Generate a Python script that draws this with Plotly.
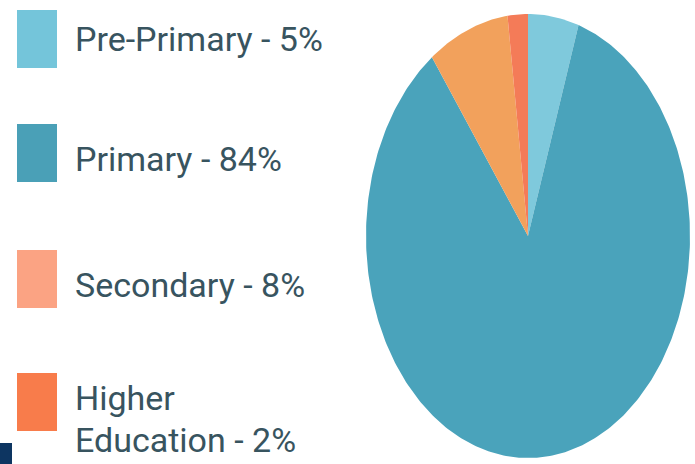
import numpy as np
import plotly.graph_objects as go

categories = ["Pre-Primary", "Primary", "Secondary", "Higher Education"]
values = [5, 84, 8, 2]
slice_colors = ["#7fc9dc", "#4aa3bb", "#f2a15c", "#f47b58"]
legend_colors = ["#74c5da", "#4aa0b7", "#fba383", "#f87c4b"]

W, H = 695, 464
fig = go.Figure()

total = sum(values)
start = 0.0
for cat, val, col in zip(categories, values, slice_colors):
    span = 2 * np.pi * val / total
    t = np.linspace(start, start + span, max(int(val * 4), 8))
    xs = np.concatenate([[0], np.sin(t), [0]])
    ys = np.concatenate([[0], np.cos(t), [0]])
    fig.add_trace(go.Scatter(x=xs, y=ys, mode="lines", fill="toself",
                             fillcolor=col, line=dict(width=0, color=col),
                             name=cat, hoverinfo="name", showlegend=False))
    start += span

# pie placement in pixels
px0, px1 = 366, 690
py0, py1 = 14, 458
fig.update_xaxes(range=[-1, 1], domain=[px0 / W, px1 / W], visible=False, fixedrange=True)
fig.update_yaxes(range=[-1, 1], domain=[(H - py1) / H, (H - py0) / H], visible=False, fixedrange=True)

shapes = []
annotations = []
sq_tops = [10, 124, 250, 373]
text_y = [39, 159, 285, 398]
line_gap = 42
font = dict(family="Roboto, Liberation Sans, sans-serif", size=34, color="#38545f")
for i, (cat, val, col) in enumerate(zip(categories, values, legend_colors)):
    top = sq_tops[i]
    shapes.append(dict(type="rect", xref="paper", yref="paper",
                       x0=17 / W, x1=57 / W, y0=1 - (top + 58) / H, y1=1 - top / H,
                       fillcolor=col, line=dict(width=0), layer="above"))
    lines = cat.replace("Higher ", "Higher\n").split("\n")
    lines[-1] = f"{lines[-1]} - {val}%"
    for j, ln in enumerate(lines):
        annotations.append(dict(text=ln, xref="paper", yref="paper",
                                x=73 / W, y=1 - (text_y[i] + j * line_gap) / H,
                                xanchor="left", yanchor="middle", align="left",
                                showarrow=False, font=font))

shapes.append(dict(type="rect", xref="paper", yref="paper", x0=0, x1=12 / W,
                   y0=0, y1=1 - 443 / H, fillcolor="#0d3561", line=dict(width=0)))

fig.update_layout(width=W, height=H, margin=dict(l=0, r=0, t=0, b=0),
                  paper_bgcolor="white", plot_bgcolor="white",
                  shapes=shapes, annotations=annotations, showlegend=False)

fig.write_html("out.html", config={"displayModeBar": False},
               post_script="document.body.style.margin='0';document.body.style.overflow='hidden';")
